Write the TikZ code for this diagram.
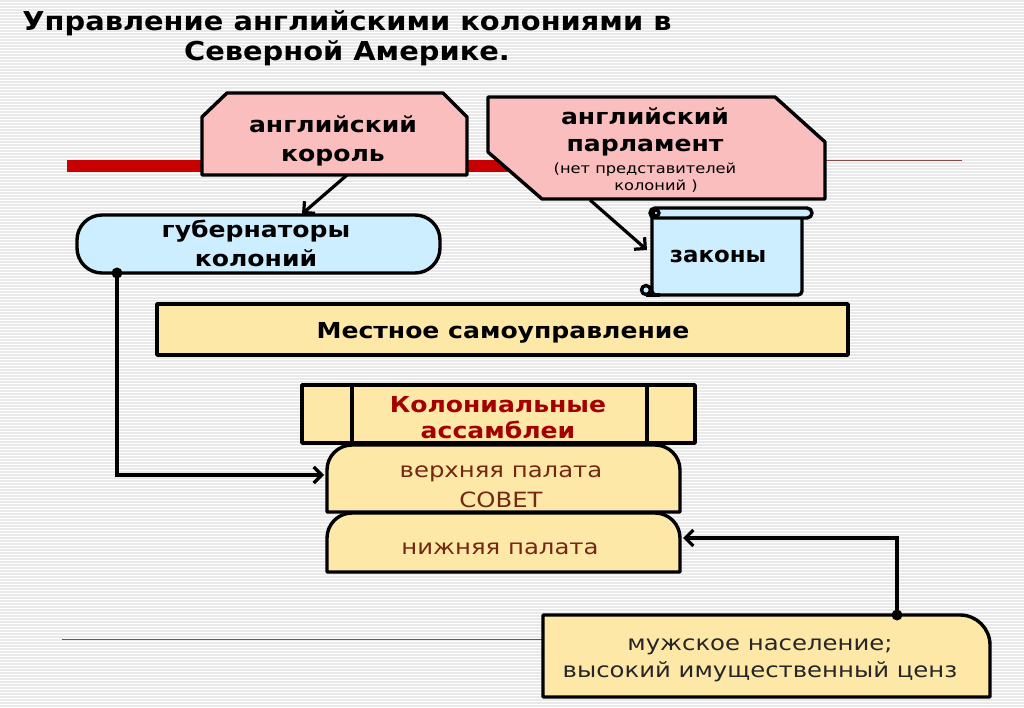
\documentclass[tikz,border=0pt]{standalone}
\usepackage{fontspec}
\setmainfont{DejaVu Sans}
\newfontfamily\bfam[FakeStretch=1.14]{DejaVu Sans Bold}
\newfontfamily\lawfam[FakeStretch=1.04]{DejaVu Sans Bold}
\newfontfamily\tfam[FakeStretch=1.11]{DejaVu Sans Bold}
\newfontfamily\rfam[FakeStretch=1.16]{DejaVu Sans}
\usetikzlibrary{arrows.meta}
\definecolor{pinkf}{RGB}{250,190,190}
\definecolor{bluef}{RGB}{205,238,255}
\definecolor{yelf}{RGB}{253,232,168}
\definecolor{barred}{RGB}{200,0,0}
\definecolor{thinred}{RGB}{140,70,70}
\definecolor{asmred}{RGB}{165,0,0}
\definecolor{brownt}{RGB}{115,40,20}
\definecolor{stripec}{RGB}{233,233,233}
\tikzset{
 box/.style={draw=black, line width=3.4pt, line join=round},
 conn/.style={draw=black, line width=3.2pt, -{Straight Barb[length=8pt,width=16pt]}},
 bt/.style={font=\bfam\fontsize{22}{26}\selectfont, anchor=base, inner sep=0},
 st/.style={font=\rfam\fontsize{14}{16}\selectfont, anchor=base, inner sep=0},
 rt/.style={font=\rfam\fontsize{21}{26}\selectfont, anchor=base, inner sep=0},
 tt/.style={font=\tfam\fontsize{26}{32}\selectfont, anchor=base, inner sep=0},
 dotc/.style={circle, fill=black, inner sep=0, minimum size=11pt},
}
\begin{document}
\begin{tikzpicture}[x=1pt,y=-1pt]
\useasboundingbox (0,0) rectangle (1024,708);
\fill[white] (0,0) rectangle (1024,708);
\foreach \yy in {1,4,...,708} \draw[stripec, line width=1.1pt] (0,\yy) -- (1024,\yy);
% title
\node[tt] (title1) at (347,31) {Управление английскими колониями в};
\node[tt] (title2) at (347,61) {Северной Америке.};
% red bar and thin lines
\draw[barred, line width=12pt] (67,166) -- (510,166);
\coordinate (thinA) at (826,161);
\coordinate (thinB) at (962,161);
\draw[thinred, line width=1pt] (thinA) -- (thinB);
\coordinate (thinC) at (62,639);
\coordinate (thinD) at (543,639);
\draw[thinred, line width=1pt] (thinC) -- (thinD);
% king
\draw[box, fill=pinkf] (202,175) -- (202,117) -- (227,93) -- (443,93) -- (467,117) -- (467,175) -- cycle;
\node[bt] (king1) at (333,133) {английский};
\node[bt] (king2) at (333,162) {король};
\coordinate (kingout) at (347,175);
% parliament
\draw[box, fill=pinkf] (488,97) -- (775,97) -- (825,142) -- (825,199) -- (542,199) -- (488,152) -- cycle;
\node[bt] (parl1) at (645,125) {английский};
\node[bt] (parl2) at (645,152) {парламент};
\node[st] (parl3) at (645,174) {(нет представителей};
\node[st] (parl4) at (656,191) {колоний )};
\coordinate (parlout) at (590,200);
% governors
\draw[box, fill=bluef, rounded corners=25pt] (77,215) rectangle (440,273);
\node[bt] (gov1) at (256,238) {губернаторы};
\node[bt] (gov2) at (256,267) {колоний};
\coordinate (govin) at (302,214);
\coordinate (govdot) at (117,273);
% scroll
\draw[box, fill=bluef, rounded corners=4pt] (652,212) rectangle (802,295);
\draw[box, fill=bluef, rounded corners=5pt] (650,208) rectangle (812,218);
\draw[box, fill=bluef] (656,213) circle (3pt);
\draw[box, fill=bluef] (646,290) circle (4.5pt);
\draw[box] (646,295) -- (660,295);
\node[bt, font=\lawfam\fontsize{22}{26}\selectfont] (laws) at (718,263) {законы};
\coordinate (lawsin) at (647,250);
% local self-government
\draw[box, fill=yelf] (157,304) rectangle (848,355);
\node[bt] (local) at (503,338) {Местное самоуправление};
% assemblies
\draw[box, fill=yelf] (302,385) rectangle (695,443);
\draw[box] (352,385) -- (352,443);
\draw[box] (647,385) -- (647,443);
\node[bt, text=asmred] (asm1) at (498,412) {Колониальные};
\node[bt, text=asmred] (asm2) at (498,438) {ассамблеи};
% upper chamber
\draw[box, fill=yelf] (327,512) -- (327,470) arc[start angle=180, end angle=270, radius=25] -- (655,445) arc[start angle=270, end angle=360, radius=25] -- (680,512) -- cycle;
\node[rt, text=brownt] (up1) at (501,477) {верхняя палата};
\node[rt, text=brownt] (up2) at (501,507) {СОВЕТ};
\coordinate (upin) at (324,475);
% lower chamber
\draw[box, fill=yelf] (327,572) -- (327,538) arc[start angle=180, end angle=270, radius=25] -- (655,513) arc[start angle=270, end angle=360, radius=25] -- (680,572) -- cycle;
\node[rt, text=brownt] (low) at (500,554) {нижняя палата};
\coordinate (lowin) at (683,538);
% bottom box
\draw[box, fill=yelf] (543,697) -- (543,615) -- (960,615) arc[start angle=270, end angle=360, radius=30] -- (990,697) -- cycle;
\node[rt, text=black!85] (pop1) at (760,650) {мужское население;};
\node[rt, text=black!85] (pop2) at (760,677) {высокий имущественный ценз};
\coordinate (popdot) at (897,615);
% connectors
\draw[conn] (kingout) -- (govin);
\draw[conn] (parlout) -- (lawsin);
\draw[conn] (govdot) |- (upin);
\draw[conn] (popdot) |- (lowin);
\node[dotc] (d1) at (govdot) {};
\node[dotc] (d2) at (popdot) {};
\end{tikzpicture}
\end{document}
